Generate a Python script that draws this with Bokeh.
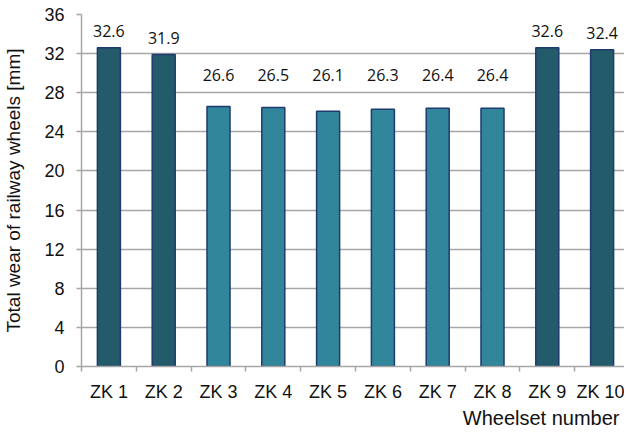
from bokeh.plotting import figure
from bokeh.models import ColumnDataSource, Range1d, FixedTicker, Title
from bokeh.core.properties import value
from bokeh.embed import file_html
from bokeh.resources import INLINE

categories = ["ZK 1", "ZK 2", "ZK 3", "ZK 4", "ZK 5", "ZK 6", "ZK 7", "ZK 8", "ZK 9", "ZK 10"]
wear = [32.6, 31.9, 26.6, 26.5, 26.1, 26.3, 26.4, 26.4, 32.6, 32.4]
group = ["high", "high", "mid", "mid", "mid", "mid", "mid", "mid", "high", "high"]
y_ticks = [0, 4, 8, 12, 16, 20, 24, 28, 32, 36]

DARK = "#235b6a"
LIGHT = "#31869b"
OUTLINE = "#1f3a6e"
GRID = "#a6a6a6"

xs = [i + 0.5 for i in range(len(categories))]
colors = [DARK if g == "high" else LIGHT for g in group]
labels = [f"{v:.1f}" for v in wear]
mid_top = max(v for v, g in zip(wear, group) if g == "mid")
label_y = [v if g == "high" else mid_top for v, g in zip(wear, group)]
label_off = [-17 if g == "high" else -31 for g in group]

src = ColumnDataSource(dict(x=xs, top=wear, color=colors, label=labels,
                            ly=label_y, loff=label_off))

p = figure(frame_width=543, frame_height=352, output_backend="svg",
           toolbar_location=None, x_range=Range1d(0, 543 / 54.8),
           y_range=Range1d(0, 36), min_border_left=76, min_border_right=0,
           min_border_top=14, min_border_bottom=0)
p.outline_line_color = None
p.background_fill_color = "white"

p.vbar(x="x", top="top", bottom=0, width=0.42, source=src, fill_color="color",
       line_color=OUTLINE, line_width=1.5)

p.text(x="x", y="ly", text="label", source=src, y_offset="loff",
       text_align="center", text_baseline="middle",
       text_font=value("Open Sans"), text_font_size="16px", text_color="#111111")

# y axis
p.yaxis.ticker = FixedTicker(ticks=y_ticks)
p.yaxis.axis_line_color = GRID
p.yaxis.axis_line_width = 1.5
p.yaxis.major_tick_line_color = GRID
p.yaxis.major_tick_line_width = 1.5
p.yaxis.major_tick_out = 5
p.yaxis.major_tick_in = 0
p.yaxis.minor_tick_line_color = None
p.yaxis.major_label_text_font = "Liberation Sans"
p.yaxis.major_label_text_font_size = "18px"
p.yaxis.major_label_text_color = "#111111"
p.yaxis.major_label_standoff = 12
p.yaxis.axis_label = "Total wear of railway wheels [mm]"
p.yaxis.axis_label_text_font = "Liberation Sans"
p.yaxis.axis_label_text_font_size = "19px"
p.yaxis.axis_label_text_font_style = "normal"
p.yaxis.axis_label_text_color = "#111111"
p.yaxis.axis_label_standoff = 17

# x axis
p.xaxis.ticker = FixedTicker(ticks=xs, minor_ticks=list(range(len(categories) + 1)))
p.xaxis.major_label_overrides = {x: c for x, c in zip(xs, categories)}
p.xaxis.axis_line_color = GRID
p.xaxis.axis_line_width = 1.5
p.xaxis.major_tick_line_color = None
p.xaxis.major_tick_out = 0
p.xaxis.major_tick_in = 0
p.xaxis.minor_tick_line_color = GRID
p.xaxis.minor_tick_line_width = 1.5
p.xaxis.minor_tick_out = 5
p.xaxis.minor_tick_in = 0
p.xaxis.major_label_text_font = "Liberation Sans"
p.xaxis.major_label_text_font_size = "18px"
p.xaxis.major_label_text_color = "#111111"
p.xaxis.major_label_standoff = 10

p.xgrid.grid_line_color = None
p.ygrid.grid_line_color = GRID
p.ygrid.grid_line_width = 1.5

t = Title(text="Wheelset number", align="right", text_font="Liberation Sans",
          text_font_size="20px", text_font_style="normal", text_color="#111111",
          offset=5, standoff=0)
p.add_layout(t, "below")

open("out.html", "w").write(file_html(p, INLINE))
